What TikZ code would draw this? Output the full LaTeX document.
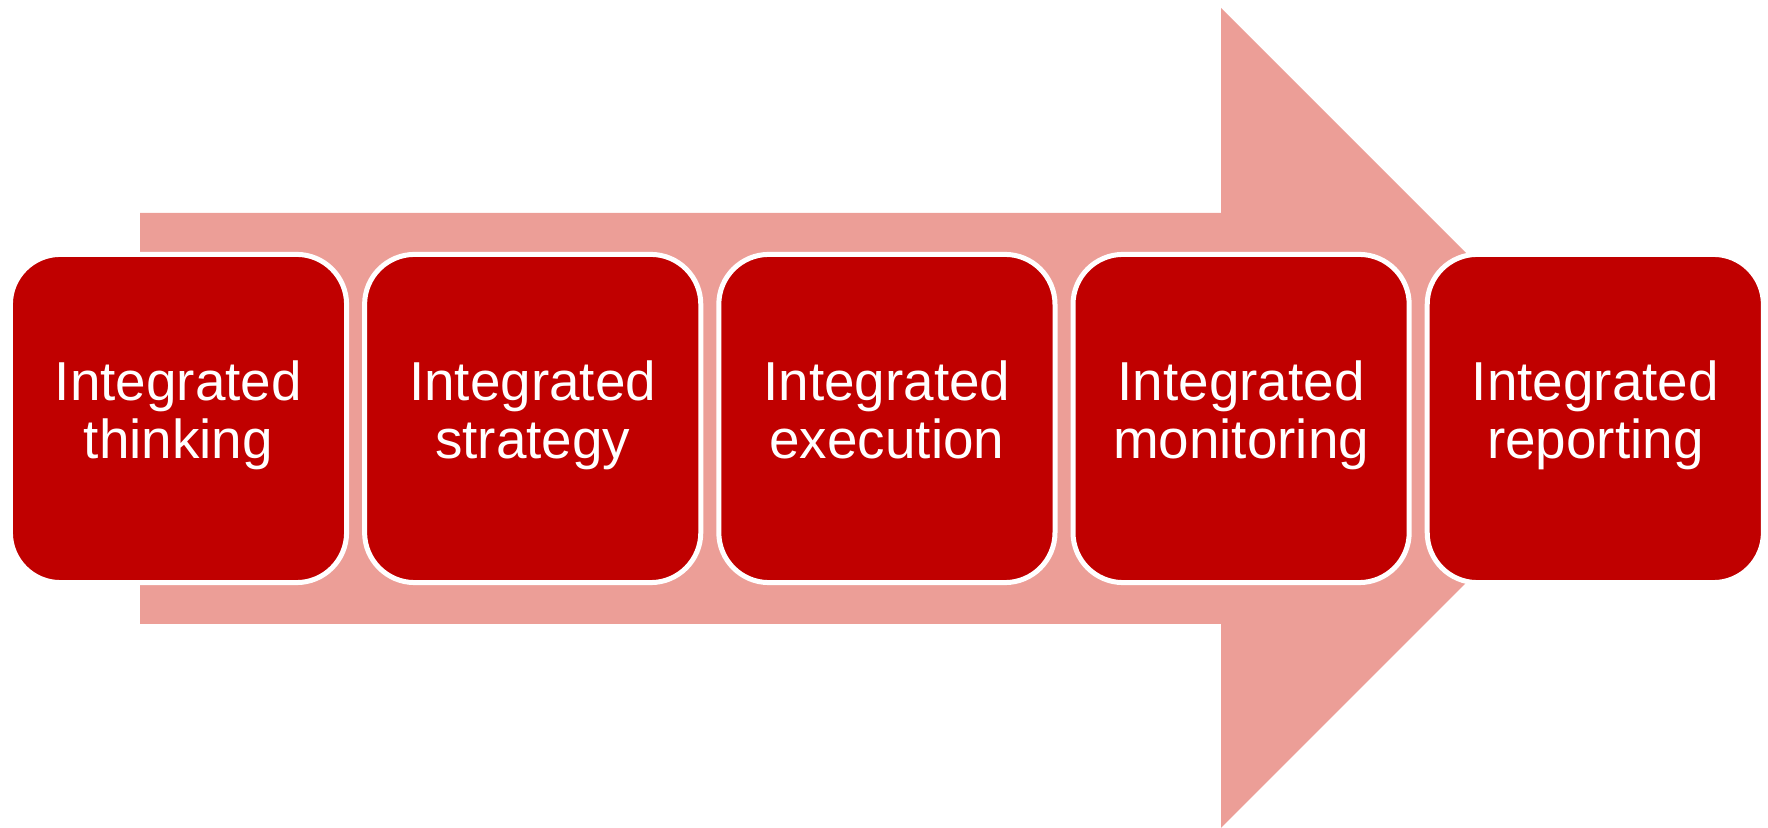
\documentclass[tikz,border=0pt]{standalone}
\usepackage{fontspec}
\setmainfont{Liberation Sans}
\usepackage{tikz}
\usetikzlibrary{positioning}
\definecolor{boxred}{RGB}{192,0,0}
\definecolor{arrowpink}{RGB}{236,158,151}
\tikzset{stage/.style={draw=white,line width=0.05cm,fill=boxred,text=white,
    rounded corners=0.5cm,minimum width=3.36cm,minimum height=3.28cm,
    outer sep=0pt,inner sep=0pt,align=center,
    font=\fontsize{15.6}{16.5}\selectfont,
    execute at begin node={\rule{0pt}{14.9pt}},execute at end node={\strut}}}

\begin{document}
\begin{tikzpicture}[x=0.01cm,y=-0.01cm]
    \def\gap{0.18cm}
    \useasboundingbox (0,0) rectangle (1768,828);
    % big arrow
    \fill[arrowpink] (140,213) -- (1221,213) -- (1221,8) -- (1631,418) -- (1221,828) -- (1221,624) -- (140,624) -- cycle;
    % stages
    \node[stage] (s1) at (178.5,418.5) {Integrated\\thinking};
    \node[stage,right=\gap of s1] (s2) {Integrated\\strategy};
    \node[stage,right=\gap of s2] (s3) {Integrated\\execution};
    \node[stage,right=\gap of s3] (s4) {Integrated\\monitoring};
    \node[stage,right=\gap of s4] (s5) {Integrated\\reporting};
\end{tikzpicture}
\end{document}
